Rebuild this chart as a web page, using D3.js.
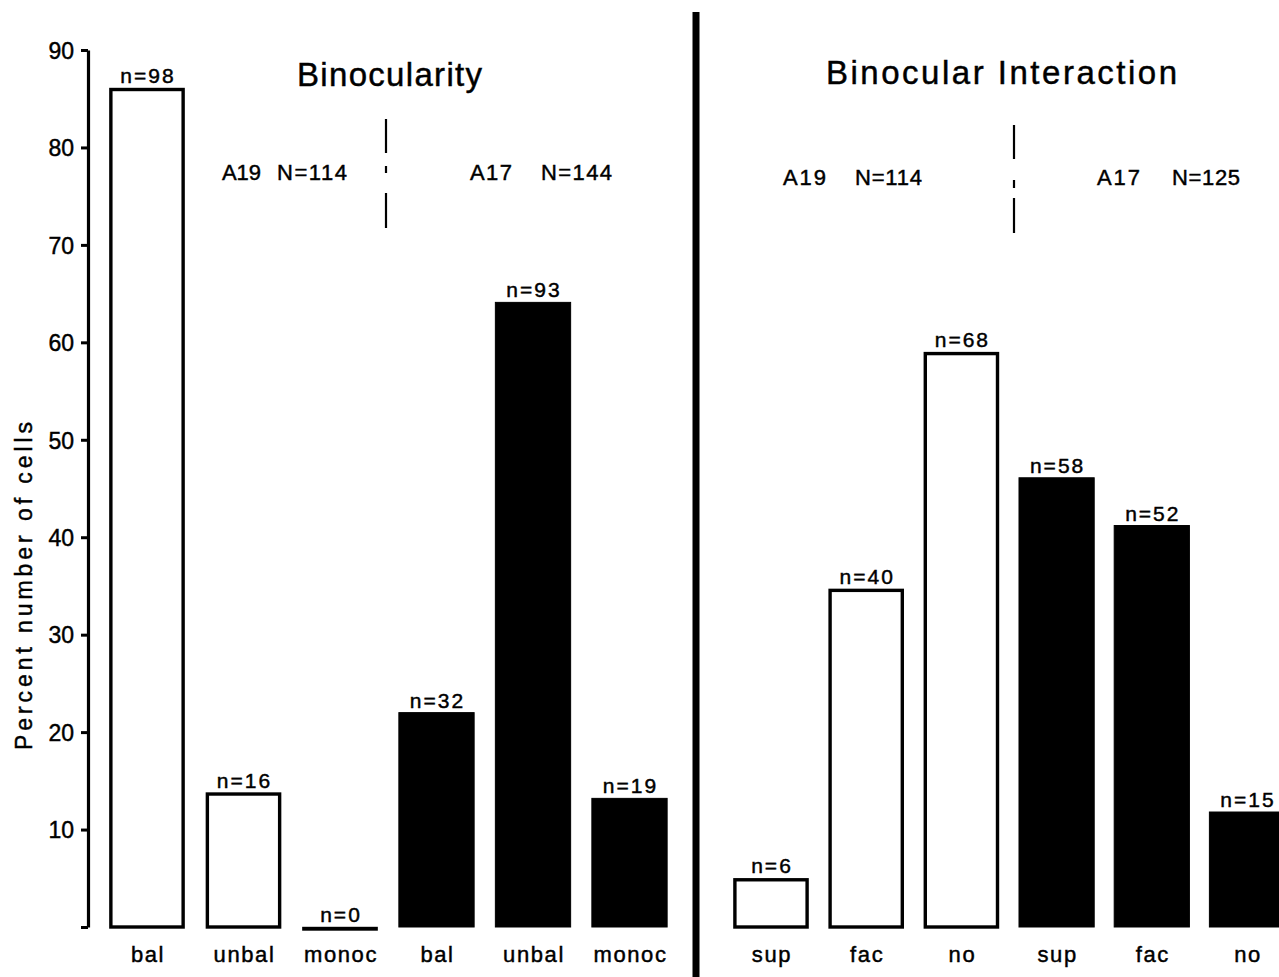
<!DOCTYPE html>
<html>
<head>
<meta charset="utf-8">
<script src="https://cdn.jsdelivr.net/npm/d3@7/dist/d3.min.js"></script>
<style>
  html, body { margin: 0; padding: 0; background: #fff; }
  svg { display: block; }
  text { font-family: "Liberation Sans", Arial, sans-serif; fill: #000; stroke: #000; stroke-width: 0.45px; }
</style>
</head>
<body>
<svg id="chart" width="1279" height="977"></svg>
<script>
// ---- data ----
const binocCategories = ["bal", "unbal", "monoc"];
const interactCategories = ["sup", "fac", "no"];
const binocA19 = [86.1, 13.8, 0];
const binocA17 = [22.0, 64.1, 13.2];
const binocA19n = [98, 16, 0];
const binocA17n = [32, 93, 19];
const interactA19 = [5.0, 34.7, 59.0];
const interactA17 = [46.1, 41.2, 11.8];
const interactA19n = [6, 40, 68];
const interactA17n = [58, 52, 15];
const yTicks = [0, 10, 20, 30, 40, 50, 60, 70, 80, 90];
const panelTitles = ["Binocularity", "Binocular Interaction"];
const groupLabels = [["A19", "N=114", "A17", "N=144"], ["A19", "N=114", "A17", "N=125"]];
const yLabel = "Percent number of cells";

function buildPanel(cats, a19, a17, n19, n17) {
  const out = [];
  cats.forEach((c, i) => out.push({ key: "A19-" + c, cat: c, value: a19[i], n: n19[i], area: "A19" }));
  cats.forEach((c, i) => out.push({ key: "A17-" + c, cat: c, value: a17[i], n: n17[i], area: "A17" }));
  return out;
}
const leftData = buildPanel(binocCategories, binocA19, binocA17, binocA19n, binocA17n);
const rightData = buildPanel(interactCategories, interactA19, interactA17, interactA19n, interactA17n);

// ---- layout ----
const svg = d3.select("#chart");
const y = d3.scaleLinear().domain([0, 90]).range([927, 50]);
const xLeft = d3.scaleBand().domain(leftData.map(d => d.key)).range([98.75, 677.75]).paddingInner(0.22).paddingOuter(0.11);
const xRight = d3.scaleBand().domain(rightData.map(d => d.key)).range([723.4, 1294.6]).paddingInner(0.21).paddingOuter(0.105);

// y axis
const yAxis = d3.axisLeft(y).tickValues(yTicks).tickSize(7).tickSizeOuter(0).tickPadding(7)
  .tickFormat(d => d === 0 ? "" : d);
const ag = svg.append("g").attr("transform", "translate(88,0)").call(yAxis);
ag.select(".domain").attr("stroke", "#000").attr("stroke-width", 3.2);
ag.selectAll(".tick line").attr("stroke", "#000").attr("stroke-width", 3);
ag.selectAll(".tick text").attr("font-size", 23).attr("font-family", "Liberation Sans, Arial, sans-serif")
  .attr("fill", "#000").attr("stroke", "#000").attr("stroke-width", 0.5).attr("dy", "0.36em");

// y label
svg.append("text")
  .attr("transform", "translate(32,586) rotate(-90)")
  .attr("text-anchor", "middle")
  .attr("font-size", 23)
  .attr("textLength", 328).attr("lengthAdjust", "spacing")
  .text(yLabel);

function drawBars(data, x) {
  const g = svg.append("g");
  g.selectAll("rect").data(data).join("rect")
    .attr("x", d => x(d.key) + (d.area === "A19" ? 1.5 : 0))
    .attr("width", d => x.bandwidth() - (d.area === "A19" ? 3 : 0))
    .attr("y", d => y(d.value) + (d.area === "A19" ? 1.5 : 0))
    .attr("height", d => Math.max(0.5, y(0) - y(d.value) - (d.area === "A19" ? 1.5 : 0)))
    .attr("fill", d => d.area === "A19" ? "#fff" : "#000")
    .attr("stroke", "#000")
    .attr("stroke-width", d => d.area === "A19" ? 3.4 : 1);
  g.selectAll("text.n").data(data).join("text").attr("class", "n")
    .attr("x", d => x(d.key) + x.bandwidth() / 2 + 1)
    .attr("y", d => y(d.value) - 5)
    .attr("text-anchor", "middle")
    .attr("font-size", 21)
    .attr("letter-spacing", 2)
    .text(d => "n=" + d.n);
  g.selectAll("text.cat").data(data).join("text").attr("class", "cat")
    .attr("x", d => x(d.key) + x.bandwidth() / 2 + 1)
    .attr("y", 962)
    .attr("text-anchor", "middle")
    .attr("font-size", 22)
    .attr("letter-spacing", 1.6)
    .text(d => d.cat);
}
drawBars(leftData, xLeft);
drawBars(rightData, xRight);

// panel divider
svg.append("line").attr("x1", 696).attr("x2", 696).attr("y1", 12).attr("y2", 977)
  .attr("stroke", "#000").attr("stroke-width", 7);

// titles
svg.append("text").attr("x", 297).attr("y", 86).attr("font-size", 33)
  .attr("textLength", 185).attr("lengthAdjust", "spacing").text(panelTitles[0]);
svg.append("text").attr("x", 826).attr("y", 84).attr("font-size", 33)
  .attr("textLength", 351).attr("lengthAdjust", "spacing").text(panelTitles[1]);

// group labels
const glPos = [
  [[222, 180, 39], [277, 180, 70], [470, 180, 42], [541, 180, 71]],
  [[783, 185, 43], [855, 185, 67], [1097, 185, 43], [1172, 185, 68]]
];
glPos.forEach((row, p) => row.forEach((pos, i) => {
  svg.append("text").attr("x", pos[0]).attr("y", pos[1]).attr("font-size", 22)
    .attr("textLength", pos[2]).attr("lengthAdjust", "spacing").text(groupLabels[p][i]);
}));

// dashed dividers between A19 and A17 groups
const dividers = [
  { x: 386, segs: [[119, 153], [166, 173], [193, 228]] },
  { x: 1014, segs: [[125, 159], [180, 188], [198, 233]] }
];
dividers.forEach(dv => dv.segs.forEach(s => {
  svg.append("line").attr("x1", dv.x).attr("x2", dv.x).attr("y1", s[0]).attr("y2", s[1])
    .attr("stroke", "#000").attr("stroke-width", 2.2);
}));
</script>
</body>
</html>
